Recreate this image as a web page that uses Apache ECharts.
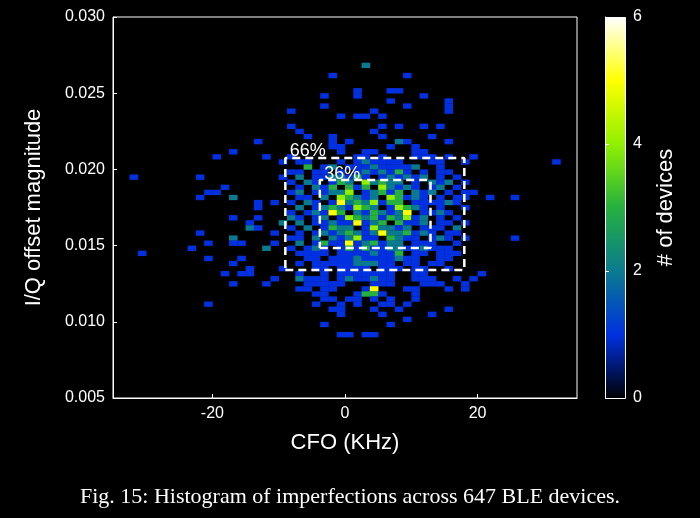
<!DOCTYPE html>
<html><head><meta charset="utf-8">
<script src="https://cdn.jsdelivr.net/npm/echarts@6/dist/echarts.min.js"></script>
<style>html,body{margin:0;background:#000;}#c{width:700px;height:518px;}</style>
</head><body><div id="c"></div>
<script>
// Histogram bins: x from -35 KHz in 1.25 KHz steps, y from 0.030 down in 1/3000 steps
const xBinStart = -35, xBinWidth = 1.25;
const yBinTop = 0.030, yBinHeight = 0.025 / 75;
// Dense core counts: rows 26..62 (from top), columns 21..42
const coreFirstRow = 26, coreFirstCol = 21;
const coreRows = [
"0000001001100001100000",
"1000000011010001110100",
"0110001012111100011001",
"0030120111211112001000",
"1101101012121310101100",
"0201122131012121201010",
"1021013204232201021201",
"0102130313042121012010",
"1201122401231302120101",
"0110204321204312101011",
"1021015232413301111210",
"0201232143201432101001",
"1012153021321250112100",
"2101201432313241201010",
"0201121151230311201101",
"1020132201422120111020",
"0101212321252231210110",
"1102021241103211012101",
"0201311512312201110010",
"1012101313112211211100",
"0111101111211301101110",
"0011011121111211001100",
"0101111122211011011000",
"0001101111011101100100",
"0100101111111001100000",
"0211101211211001110010",
"0011111000111000111000",
"0110110001500011000100",
"0001100013310001000000",
"0000110110101001000000",
"0001001010011010000000",
"0000011000100100000100",
"0000001000010000010000",
"0000000000000010000000",
"0000100000001000000000",
"0000000000000000000000",
"0000001101100000000000"
];
// Scattered cells outside the core: [column, row, count]
const outerCells = [
[17,24,1],[14,26,1],[12,27,1],[18,27,1],[20,28,1],[2,31,1],[10,31,1],[20,31,1],[13,33,1],
[11,34,1],[12,34,1],[10,35,1],[14,35,2],[17,36,1],[17,37,1],[19,36,1],[14,39,1],[17,39,1],
[16,40,1],[20,40,2],[16,41,2],[17,41,1],[10,42,1],[19,42,1],[14,43,2],[14,44,1],[15,44,1],
[11,44,1],[19,44,1],[9,45,1],[18,45,2],[3,46,1],[11,47,1],[15,47,1],[14,48,1],[16,49,1],
[16,50,1],[15,50,1],[13,50,1],[20,49,1],[19,51,1],[14,52,1],[18,52,1],[11,56,1],
[43,27,1],[53,28,1],[43,34,1],[45,35,1],[48,35,1],[48,43,1],[43,51,1],[44,50,1],
[42,52,1],[42,53,1],
[30,9,2],[26,11,1],[35,11,1],[29,14,1],[29,15,1],[33,14,1],[34,14,1],[25,15,1],[37,15,1],
[33,16,1],[40,16,1],[40,17,1],[40,18,1],[25,17,1],[35,17,1],[21,18,1],[31,18,1],[27,19,1],
[29,19,1],[30,19,1],[32,19,1],[21,21,1],[22,22,1],[32,21,1],[34,21,1],[37,21,1],[39,21,1],
[31,22,1],[23,23,1],[26,23,1],[26,24,1],[26,25,1],[32,23,1],[38,23,1],[28,24,1],[34,24,2],
[35,24,1],[40,24,1],[27,25,1],[33,25,1],[36,25,1]
];
const xTicks = [-20, 0, 20];
const colorbarTicks = [0, 2, 4, 6];
const outerBox = [[-9, 0.0134], [18, 0.0134], [18, 0.02075], [-9, 0.02075], [-9, 0.0134]];
const innerBox = [[-3.8, 0.01484], [12.9, 0.01484], [12.9, 0.0193], [-3.8, 0.0193], [-3.8, 0.01484]];

const cellMap = {};
coreRows.forEach((s, i) => { for (let j = 0; j < s.length; j++) { const v = +s[j]; if (v > 0) cellMap[(coreFirstCol + j) + ',' + (coreFirstRow + i)] = v; } });
outerCells.forEach(([c, r, v]) => { cellMap[c + ',' + r] = v; });
const cells = Object.keys(cellMap).map(k => { const [c, r] = k.split(',').map(Number);
  return [xBinStart + (c + 0.5) * xBinWidth, yBinTop - (r + 0.5) * yBinHeight, cellMap[k]]; });

const cmap = ['#000000','#0030e0','#0a7a90','#25b040','#90f000','#ffff00','#ffffff'];
const chart = echarts.init(document.getElementById('c'));
const white = '#fff';
chart.setOption({
  backgroundColor: '#000',
  animation: false,
  grid: [{ left: 113, right: 123, top: 17, bottom: 120, show: true, borderColor: white, borderWidth: 1 },
         { left: 605, width: 20, top: 17, bottom: 120 }],
  xAxis: [{ type: 'value', min: -35, max: 35, gridIndex: 0,
    name: 'CFO (KHz)', nameLocation: 'middle', nameGap: 34,
    nameTextStyle: { color: white, fontSize: 22, fontFamily: 'Liberation Sans' },
    axisLine: { show: true, onZero: false, lineStyle: { color: white } }, splitLine: { show: false },
    axisTick: { show: true, customValues: xTicks, lineStyle: { color: white }, inside: true, length: 4 },
    axisLabel: { customValues: xTicks, color: white, fontSize: 16, fontFamily: 'Liberation Sans' } },
    { type: 'value', gridIndex: 1, show: false, min: 0, max: 1 }],
  yAxis: [{ type: 'value', min: 0.005, max: 0.030, interval: 0.005, gridIndex: 0,
    name: 'I/Q offset magnitude', nameLocation: 'middle', nameGap: 68,
    nameTextStyle: { color: white, fontSize: 22, fontFamily: 'Liberation Sans' },
    axisLine: { show: true, onZero: false, lineStyle: { color: white } }, splitLine: { show: false },
    axisTick: { show: true, inside: true, length: 4, lineStyle: { color: white } },
    axisLabel: { color: white, fontSize: 16, fontFamily: 'Liberation Sans', formatter: v => v.toFixed(3) } },
    { type: 'value', gridIndex: 1, min: 0, max: 6, interval: 2, position: 'right',
    name: '# of devices', nameLocation: 'middle', nameGap: 30, nameRotate: 90,
    nameTextStyle: { color: white, fontSize: 22, fontFamily: 'Liberation Sans' },
    axisLine: { show: true, lineStyle: { color: white } }, splitLine: { show: false },
    axisTick: { show: true, length: 4, lineStyle: { color: white } },
    axisLabel: { color: white, fontSize: 16, fontFamily: 'Liberation Sans' } }],
  visualMap: { show: false, type: 'continuous', min: 0, max: 6, dimension: 2, seriesIndex: 0, inRange: { color: cmap } },
  graphic: [{ type: 'rect', left: 605, top: 17, shape: { width: 20, height: 381 }, z: -1,
    style: { stroke: white, lineWidth: 1, fill: new echarts.graphic.LinearGradient(0, 1, 0, 0,
      cmap.map((c, i) => ({ offset: i / 6, color: c }))) } },
    { type: 'text', left: 'center', top: 486, style: { text: 'Fig. 15: Histogram of imperfections across 647 BLE devices.',
      fill: white, font: '22px "Liberation Serif"' } }],
  series: [{
    type: 'custom', xAxisIndex: 0, yAxisIndex: 0, data: cells,
    renderItem: (params, api) => {
      const p = api.coord([api.value(0), api.value(1)]);
      const s = api.size([xBinWidth, yBinHeight]);
      return { type: 'rect', shape: { x: p[0] - s[0] / 2, y: p[1] - s[1] / 2, width: s[0] + 0.3, height: s[1] + 0.3 },
        style: { fill: api.visual('color') } };
    }
  }, {
    type: 'line', data: outerBox, symbol: 'none', z: 5,
    lineStyle: { color: white, width: 2.5, type: [8, 5] },
    markPoint: { symbol: 'rect', symbolSize: 1, data: [{ coord: [-9, 0.02075],
      label: { show: true, formatter: '66%', color: white, fontSize: 18, fontFamily: 'Liberation Sans', position: 'insideTopLeft', offset: [0, -20] } }] }
  }, {
    type: 'line', data: innerBox, symbol: 'none', z: 5,
    lineStyle: { color: white, width: 2.5, type: [8, 5] },
    markPoint: { symbol: 'rect', symbolSize: 1, data: [{ coord: [-3.8, 0.0193],
      label: { show: true, formatter: '36%', color: white, fontSize: 18, fontFamily: 'Liberation Sans', position: 'insideTopLeft', offset: [0, -20] } }] }
  }]
});
</script></body></html>
